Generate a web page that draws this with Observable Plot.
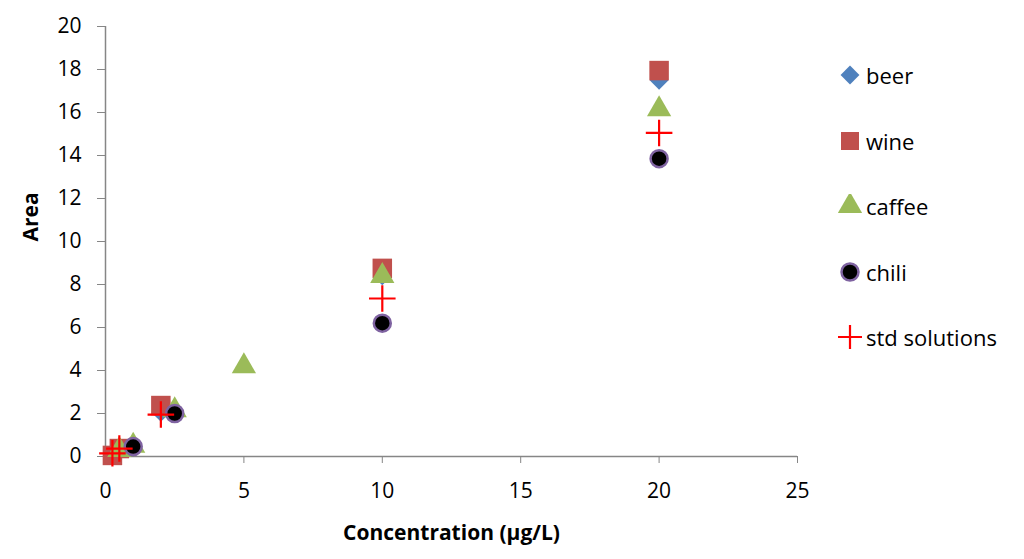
<!DOCTYPE html>
<html><head><meta charset="utf-8">
<script src="https://cdn.jsdelivr.net/npm/d3@7"></script>
<script src="https://cdn.jsdelivr.net/npm/@observablehq/plot@0.6"></script>
<style>
body{margin:0;background:#fff;font-family:"Open Sans",sans-serif;}
#wrap{position:relative;width:1024px;height:559px;}
#legend{position:absolute;left:838px;top:59px;font-size:22px;color:#000;}
#legend div{display:flex;align-items:center;height:32px;margin-bottom:33.5px;}
#legend svg{margin-right:4px;}
</style></head>
<body><div id="wrap"><div id="chart"></div><div id="legend"></div></div>
<script>
const xTicks = [0, 5, 10, 15, 20, 25];
const yTicks = [0, 2, 4, 6, 8, 10, 12, 14, 16, 18, 20];

const beerX = [0.25, 0.5, 1, 2, 10, 20];
const beerY = [0.05, 0.3, 0.45, 2.05, 8.4, 17.5];
const wineX = [0.25, 0.5, 2, 10, 20];
const wineY = [0.05, 0.37, 2.37, 8.75, 17.95];
const caffeeX = [0.5, 1, 2.5, 5, 10, 20];
const caffeeY = [0.3, 0.5, 2.15, 4.2, 8.4, 16.15];
const chiliX = [1, 2.5, 10, 20];
const chiliY = [0.46, 2.0, 6.2, 13.85];
const stdX = [0.25, 0.5, 2, 10, 20];
const stdY = [0.15, 0.37, 1.95, 7.35, 15.05];

const series = [
  {name: "beer", xs: beerX, ys: beerY, symbol: "diamond2", fill: "#4f81bd", stroke: "none", r: 8.5, sw: 0},
  {name: "wine", xs: wineX, ys: wineY, symbol: "square", fill: "#c0504d", stroke: "none", r: 11, sw: 0},
  {name: "caffee", xs: caffeeX, ys: caffeeY, symbol: "triangle", fill: "#9bbb59", stroke: "none", r: 9, sw: 0},
  {name: "chili", xs: chiliX, ys: chiliY, symbol: "circle", fill: "#000000", stroke: "#7f63a1", r: 8.5, sw: 2.5},
  {name: "std solutions", xs: stdX, ys: stdY, symbol: "plus", fill: "none", stroke: "#ff0000", r: 8.6, sw: 2.2}
];
const toRows = s => s.xs.map((x, i) => ({x, y: s.ys[i]}));

const axisColor = "#868686";
const marks = [
  Plot.ruleY([0], {stroke: axisColor, strokeWidth: 1.5}),
  Plot.ruleX([0], {stroke: axisColor, strokeWidth: 1.5}),
  Plot.axisX({ticks: xTicks, tickSize: 7, tickPadding: 20, stroke: axisColor, color: "#000", fontSize: 21, label: null}),
  Plot.axisY({ticks: yTicks, tickSize: 8, tickPadding: 16, stroke: axisColor, color: "#000", fontSize: 21, label: null}),
];
for (const s of series) {
  marks.push(Plot.dot(toRows(s), {x: "x", y: "y", symbol: s.symbol, r: s.r, fill: s.fill, stroke: s.stroke, strokeWidth: s.sw}));
}

const chart = Plot.plot({
  width: 1024, height: 559,
  marginLeft: 105, marginRight: 227, marginTop: 26, marginBottom: 103,
  style: {fontFamily: "Open Sans, sans-serif", background: "#fff", overflow: "visible"},
  x: {domain: [0, 25]},
  y: {domain: [0, 20]},
  marks: [
    ...marks,
    Plot.text(["Concentration (µg/L)"], {frameAnchor: "bottom", dy: 83, fontSize: 21, fontWeight: "bold", fill: "#000"}),
    Plot.text(["Area"], {frameAnchor: "left", dx: -74, rotate: -90, fontSize: 21, fontWeight: "bold", fill: "#000"})
  ]
});
document.getElementById("chart").appendChild(chart);

// legend
const leg = document.getElementById("legend");
for (const s of series) {
  const div = document.createElement("div");
  const svg = d3.create("svg").attr("width", 24).attr("height", 24);
  const sym = {diamond2: d3.symbolDiamond2, square: d3.symbolSquare, triangle: d3.symbolTriangle, circle: d3.symbolCircle, plus: d3.symbolPlus}[s.symbol];
  const scale = s.symbol === "square" ? 0.85 : 1;
  svg.append("path")
    .attr("transform", "translate(12,12)")
    .attr("d", d3.symbol(sym, Math.PI * s.r * s.r * scale)())
    .attr("fill", s.fill).attr("stroke", s.stroke)
    .attr("stroke-width", s.sw || 0);
  div.appendChild(svg.node());
  const span = document.createElement("span");
  span.textContent = s.name;
  div.appendChild(span);
  leg.appendChild(div);
}
</script>
</body></html>
